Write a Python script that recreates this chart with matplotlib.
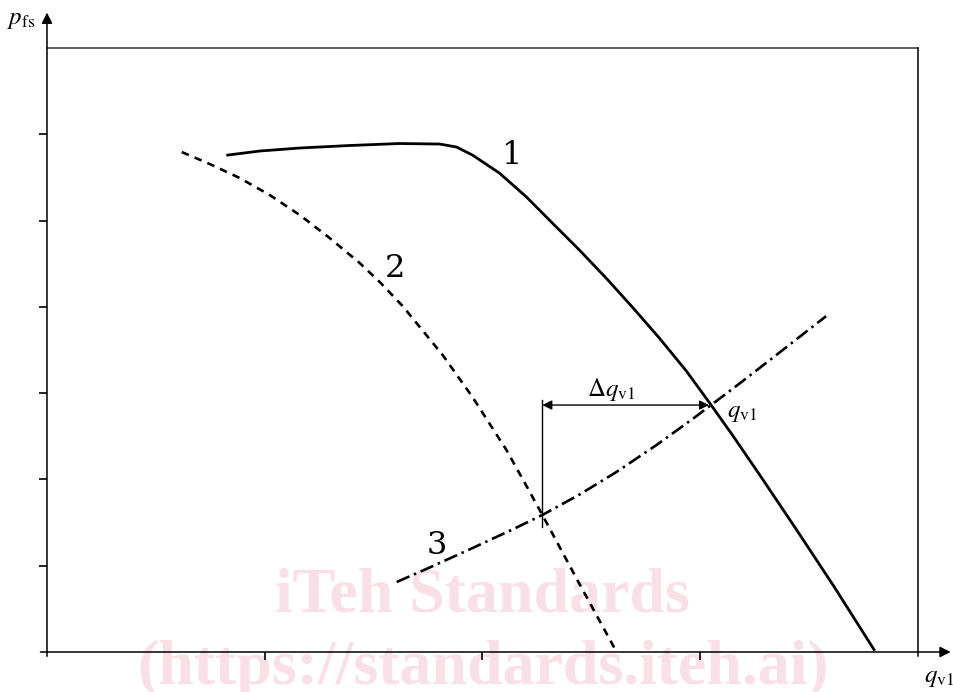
import matplotlib.pyplot as plt

plt.rcParams.update({
    'font.family': 'DejaVu Serif',
    'mathtext.fontset': 'stix',
    'lines.scale_dashes': False,
})

# curve 1: fan pressure characteristic (solid)
curve1_q = [0.830, 0.977, 1.161, 1.390, 1.619, 1.803, 1.881, 1.954, 2.078, 2.202, 2.321,
            2.445, 2.569, 2.688, 2.812, 2.936, 3.050, 3.147, 3.271, 3.440, 3.615, 3.798]
curve1_p = [5.759, 5.806, 5.841, 5.870, 5.893, 5.887, 5.852, 5.759, 5.550, 5.273, 4.971,
            4.659, 4.330, 3.998, 3.639, 3.257, 2.862, 2.517, 2.060, 1.425, 0.756, 0.028]

# curve 2: dashed characteristic
curve2_q = [0.619, 0.748, 0.885, 1.023, 1.161, 1.298, 1.436, 1.528, 1.633, 1.817, 1.954,
            2.110, 2.216, 2.275, 2.445, 2.606]
curve2_p = [5.794, 5.655, 5.493, 5.296, 5.064, 4.798, 4.508, 4.288, 4.010, 3.442, 2.955,
            2.341, 1.860, 1.588, 0.790, 0.046]

# curve 3: system resistance (dash-dot)
curve3_q = [1.606, 1.757, 1.940, 2.138, 2.275, 2.445, 2.615, 2.798, 2.963, 3.050, 3.179, 3.330, 3.578]
curve3_p = [0.811, 0.979, 1.188, 1.420, 1.588, 1.824, 2.086, 2.397, 2.697, 2.862, 3.109, 3.404, 3.892]

# operating points
op1 = (3.050, 2.862)
op2 = (2.275, 1.588)

fig = plt.figure(figsize=(9.54, 6.92), dpi=100)
ax = fig.add_axes([47 / 954, 40 / 692, 871 / 954, 604 / 692])
ax.set_xlim(0, 4)
ax.set_ylim(0, 7)
for s in ax.spines.values():
    s.set_visible(False)

ax.set_xticks([1, 2, 3])
ax.set_yticks([1, 2, 3, 4, 5, 6])
ax.set_xticklabels([])
ax.set_yticklabels([])
ax.tick_params(direction='out', length=6, width=1.2, color='black')

# frame: top and right border
ax.plot([0, 4], [7, 7], color='#333333', lw=1.1, clip_on=False)
ax.plot([4, 4], [-0.05, 7], color='black', lw=1.1, clip_on=False)

# axis arrows
arr = dict(arrowstyle='-|>', color='black', lw=1.1, mutation_scale=16, shrinkA=0, shrinkB=0)
ax.annotate('', xy=(0, 7.41), xytext=(0, -0.05), arrowprops=arr, annotation_clip=False)
ax.annotate('', xy=(4.15, 0), xytext=(-0.03, 0), arrowprops=arr, annotation_clip=False)

ax.text(-0.055, 7.33, r'$p_{\mathrm{fs}}$', fontsize=18, ha='right', va='center')
ax.text(4.096, -0.30, r'$q_{\mathrm{v1}}$', fontsize=18, ha='center', va='center')

# watermark
wm = dict(color='#f9dfe6', fontsize=46, fontweight='bold', family='Liberation Serif',
          ha='center', va='center', zorder=0, clip_on=False)
ax.text(2.0, 0.64, 'iTeh Standards', **wm)
ax.text(2.0, -0.2, '(https://standards.iteh.ai)', **wm)

# curves
ax.plot(curve1_q, curve1_p, color='black', lw=2.0, solid_joinstyle='round', zorder=3)
ax.plot(curve2_q, curve2_p, color='black', lw=1.9, linestyle=(0, (5.5, 4.5)), zorder=3)
ax.plot(curve3_q, curve3_p, color='black', lw=1.9, linestyle=(0, (10, 3.5, 1.8, 3.5)), zorder=3)

# dimension line
ax.plot([op2[0], op2[0]], [op2[1] - 0.14, op1[1] + 0.06], color='black', lw=1.0, zorder=3)
ax.annotate('', xy=(op1[0] - 0.01, op1[1]), xytext=(op2[0], op1[1]),
            arrowprops=dict(arrowstyle='<|-|>', color='black', lw=1.0, mutation_scale=14,
                            shrinkA=0, shrinkB=0), zorder=3)
ax.text(2.59, 3.04, r'$\Delta q_{\mathrm{v1}}$', fontsize=18, ha='center', va='center')
ax.text(3.125, 2.77, r'$q_{\mathrm{v1}}$', fontsize=18, ha='left', va='center')

# curve numbers
ax.text(2.13, 5.75, '1', fontsize=23, ha='center', va='center')
ax.text(1.60, 4.45, '2', fontsize=23, ha='center', va='center')
ax.text(1.79, 1.23, '3', fontsize=23, ha='center', va='center')

fig.savefig('out.png', dpi=100, facecolor='white')
